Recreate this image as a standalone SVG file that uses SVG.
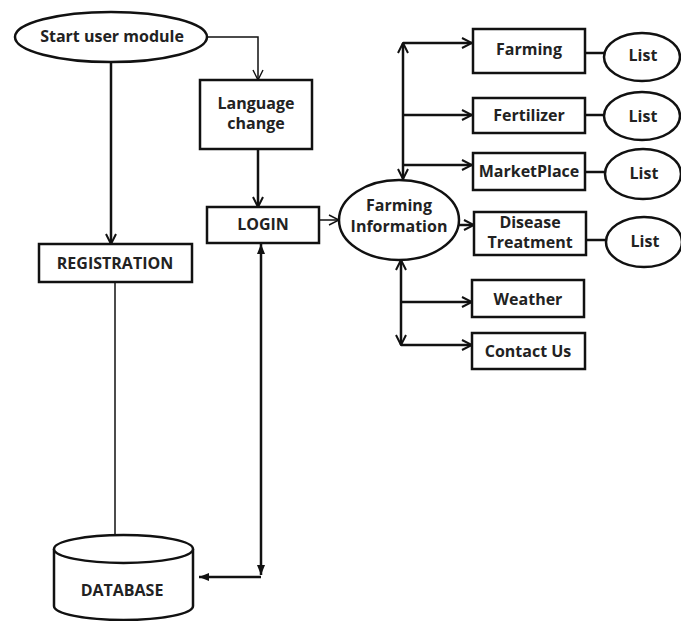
<svg xmlns="http://www.w3.org/2000/svg" width="681" height="621" viewBox="0 0 681 621">
<defs>
<style>
.box{fill:#fff;stroke:#111;stroke-width:2.5}
.t{font-family:"Open Sans","Liberation Sans",sans-serif;font-weight:bold;font-size:16px;fill:#222;text-anchor:middle}
.c{fill:none;stroke:#111;stroke-width:2.5}
.thin{fill:none;stroke:#111;stroke-width:1.5}
</style>
<marker id="a" viewBox="0 0 12 12" refX="11" refY="6" markerWidth="12" markerHeight="12" markerUnits="userSpaceOnUse" orient="auto-start-reverse">
<path d="M1,1 L11,6 L1,11" fill="none" stroke="#111" stroke-width="2"/>
</marker>
<marker id="at" viewBox="0 0 12 12" refX="11" refY="6" markerWidth="12" markerHeight="12" markerUnits="userSpaceOnUse" orient="auto-start-reverse">
<path d="M1,1 L11,6 L1,11" fill="none" stroke="#111" stroke-width="1.4"/>
</marker>
<marker id="f" viewBox="0 0 10 10" refX="10" refY="5" markerWidth="10" markerHeight="10" markerUnits="userSpaceOnUse" orient="auto-start-reverse">
<path d="M0,1 L10,5 L0,9 Z" fill="#111"/>
</marker>
</defs>
<rect width="681" height="621" fill="#fff"/>
<g id="connectors">
<path class="thin" d="M207,37 H258 V80" marker-end="url(#at)"/>
<path class="c" d="M111,63 V244" marker-end="url(#a)"/>
<path class="c" d="M258,149 V207" marker-end="url(#a)"/>
<path class="thin" d="M319,220 H339" marker-end="url(#at)"/>
<path class="c" d="M261,244 V575" marker-start="url(#f)" marker-end="url(#f)"/>
<path class="c" d="M261,577 H199" marker-end="url(#f)"/>
<path class="thin" d="M115,282 V536"/>
<path class="c" d="M403,43 V179" marker-start="url(#a)" marker-end="url(#a)"/>
<path class="c" d="M403,43 H472" marker-end="url(#a)"/>
<path class="c" d="M403,115 H472" marker-end="url(#a)"/>
<path class="c" d="M403,165 H472" marker-end="url(#a)"/>
<path class="c" d="M459,225 H474" marker-end="url(#a)"/>
<path class="c" d="M401,260 V345" marker-start="url(#a)" marker-end="url(#a)"/>
<path class="c" d="M401,302 H472" marker-end="url(#a)"/>
<path class="c" d="M401,345 H472" marker-end="url(#a)"/>
<path class="c" d="M585,53 H604"/>
<path class="c" d="M585,115 H604"/>
<path class="c" d="M585,172 H605"/>
<path class="c" d="M586,240 H607"/>
</g>
<g id="start">
<ellipse class="box" cx="111" cy="37" rx="96" ry="25"/>
<text class="t" x="112" y="42">Start user module</text>
</g>
<g id="language">
<rect class="box" x="200" y="80" width="112" height="69"/>
<text class="t" x="256" y="109">Language</text>
<text class="t" x="256" y="129">change</text>
</g>
<g id="registration">
<rect class="box" x="39" y="244" width="153" height="38"/>
<text class="t" x="115" y="269">REGISTRATION</text>
</g>
<g id="login">
<rect class="box" x="207" y="207" width="112" height="36"/>
<text class="t" x="263" y="230">LOGIN</text>
</g>
<g id="database">
<path class="box" d="M54,549 A69.5,14 0 0,1 193,549 V606 A69.5,14 0 0,1 54,606 Z"/>
<path class="box" d="M54,549 A69.5,14 0 0,0 193,549" fill="none"/>
<text class="t" x="122" y="596">DATABASE</text>
</g>
<g id="farminginfo">
<ellipse class="box" cx="399" cy="220" rx="60" ry="40"/>
<text class="t" x="399" y="211">Farming</text>
<text class="t" x="399" y="232">Information</text>
</g>
<g id="farming">
<rect class="box" x="473" y="29" width="112" height="44"/>
<text class="t" x="529" y="55">Farming</text>
</g>
<g id="fertilizer">
<rect class="box" x="473" y="98" width="112" height="35"/>
<text class="t" x="529" y="121">Fertilizer</text>
</g>
<g id="marketplace">
<rect class="box" x="473" y="153" width="112" height="37"/>
<text class="t" x="529" y="177">MarketPlace</text>
</g>
<g id="disease">
<rect class="box" x="474" y="212" width="112" height="43"/>
<text class="t" x="530" y="228">Disease</text>
<text class="t" x="530" y="248">Treatment</text>
</g>
<g id="weather">
<rect class="box" x="472" y="280" width="112" height="37"/>
<text class="t" x="528" y="305">Weather</text>
</g>
<g id="contact">
<rect class="box" x="472" y="333" width="113" height="36"/>
<text class="t" x="528" y="357">Contact Us</text>
</g>
<g id="list1">
<ellipse class="box" cx="642" cy="57" rx="38" ry="24"/>
<text class="t" x="643" y="61">List</text>
</g>
<g id="list2">
<ellipse class="box" cx="642" cy="116" rx="38" ry="24"/>
<text class="t" x="643" y="122">List</text>
</g>
<g id="list3">
<ellipse class="box" cx="643" cy="174" rx="38" ry="25"/>
<text class="t" x="644" y="179">List</text>
</g>
<g id="list4">
<ellipse class="box" cx="644" cy="242" rx="38" ry="25"/>
<text class="t" x="645" y="247">List</text>
</g>
</svg>
